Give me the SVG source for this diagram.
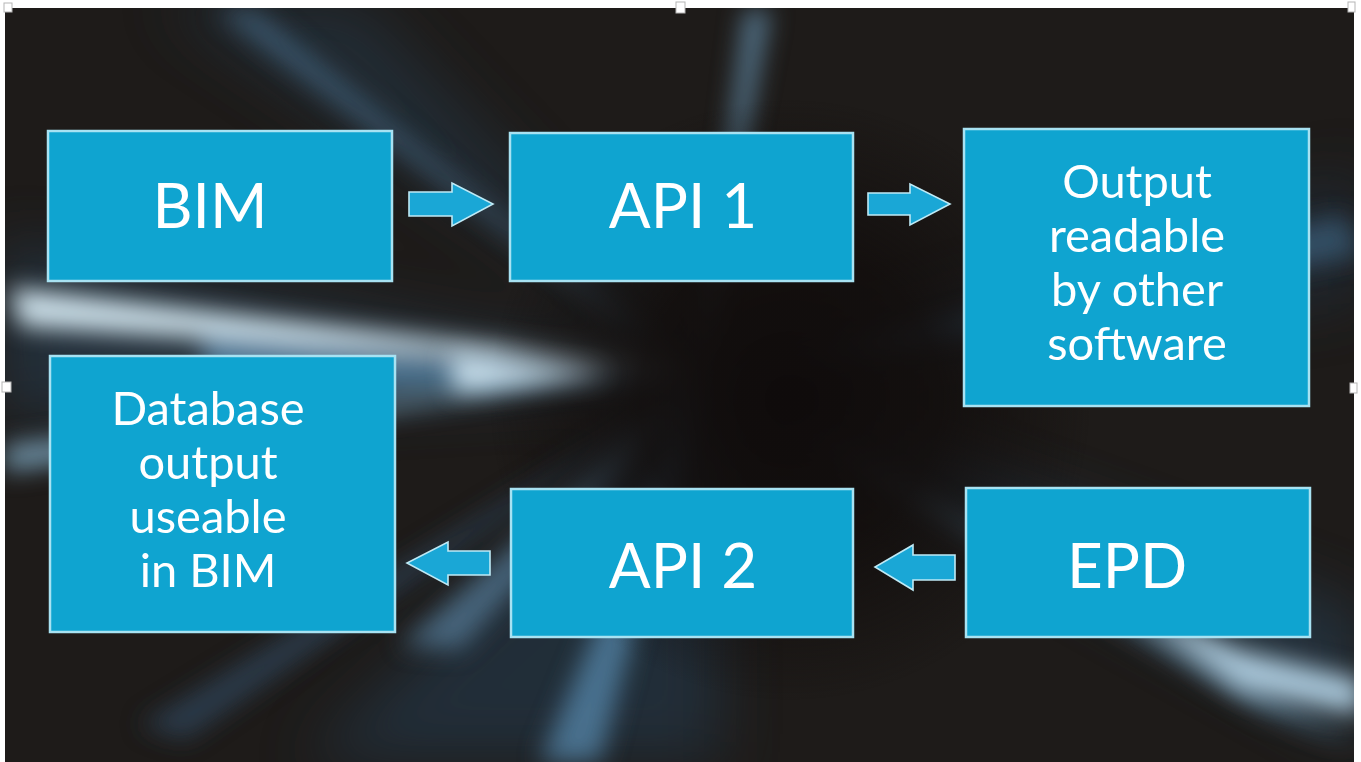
<svg xmlns="http://www.w3.org/2000/svg" width="1361" height="762" viewBox="0 0 1361 762">
  <defs>
    <style>
      .box { fill: #0fa4d0; stroke: #a8e2f2; stroke-width: 2.5; }
      .lbl { fill: #ffffff; font-family: "Lato", "Liberation Sans", sans-serif; text-anchor: middle; }
      .big { font-size: 62px; }
      .mid { font-size: 47px; }
      .arrow { fill: #1aa7d6; stroke: #bfeaf6; stroke-width: 1.6; stroke-linejoin: miter; }
      .handle { fill: #ffffff; stroke: #b5b5b5; stroke-width: 1; }
    </style>
    <clipPath id="frame">
      <rect x="5" y="8" width="1349" height="754"/>
    </clipPath>
    <filter id="soft" x="-20%" y="-20%" width="140%" height="140%">
      <feGaussianBlur stdDeviation="12"/>
    </filter>
    <filter id="softer" x="-20%" y="-20%" width="140%" height="140%">
      <feGaussianBlur stdDeviation="30"/>
    </filter>
    <radialGradient id="core" gradientUnits="userSpaceOnUse" cx="790" cy="400" r="300">
      <stop offset="0" stop-color="#0f0b0b" stop-opacity="1"/>
      <stop offset="0.5" stop-color="#120e0d" stop-opacity="0.85"/>
      <stop offset="1" stop-color="#120e0d" stop-opacity="0"/>
    </radialGradient>
  </defs>

  <!-- page -->
  <rect x="0" y="0" width="1361" height="762" fill="#ffffff"/>

  <!-- dark photo backdrop with radial light streaks -->
  <g id="backdrop" clip-path="url(#frame)">
    <rect x="5" y="8" width="1349" height="754" fill="#1e1b19"/>
    <g filter="url(#softer)" opacity="0.45">
      <polygon points="720,380 0,240 0,420" fill="#2c4a63"/>
      <polygon points="720,380 160,0 360,0" fill="#263f55"/>
      <polygon points="720,380 300,762 720,762" fill="#27455e"/>
      <polygon points="720,380 1361,610 1361,740" fill="#2b4b66"/>
      <polygon points="720,380 1361,170 1361,300" fill="#23394d"/>
    </g>
    <g filter="url(#soft)">
      <polygon points="700,370 10,288 20,326" fill="#d8ecf6" opacity="0.95"/>
      <polygon points="640,372 5,445 5,472" fill="#8bbad6" opacity="0.75"/>
      <polygon points="700,380 200,335 210,395" fill="#5e93b8" opacity="0.7"/>
      <polygon points="700,380 400,645 460,650" fill="#5f8fb3" opacity="0.6"/>
      <polygon points="700,380 540,762 600,762" fill="#5a8db3" opacity="0.7"/>
      <polygon points="700,380 215,10 255,10" fill="#4b7595" opacity="0.6"/>
      <polygon points="700,380 745,10 770,10" fill="#6c9cbe" opacity="0.7"/>
      <polygon points="720,380 1260,710 1361,745" fill="#6d9dbd" opacity="0.6"/>
      <polygon points="720,380 1345,215 1361,255" fill="#41698a" opacity="0.6"/>
      <polygon points="700,380 140,725 185,740" fill="#36597a" opacity="0.5"/>
    </g>
    <rect x="5" y="8" width="1349" height="754" fill="url(#core)"/>
    <!-- bright streaks drawn over the dark core -->
    <g filter="url(#soft)">
      <polygon points="610,374 450,354 455,392" fill="#d7ecf7" opacity="0.9"/>
      <polygon points="1120,600 1240,650 1361,680 1361,715 1240,690" fill="#b8d8ec" opacity="0.9"/>
    </g>
  </g>

  <!-- connectors -->
  <g id="connectors">
    <polygon class="arrow" points="409,192 452,192 452,183 493,204 452,226 452,216 409,216"/>
    <polygon class="arrow" points="868,193 910,193 910,184 950,204 910,225 910,215 868,215"/>
    <polygon class="arrow" points="955,555 913,555 913,545 875,567 913,590 913,580 955,580"/>
    <polygon class="arrow" points="490,551 448,551 448,542 407,563 448,585 448,575 490,575"/>
  </g>

  <!-- nodes -->
  <g id="node-bim">
    <rect class="box" x="48" y="131" width="344" height="150"/>
    <text class="lbl big" x="210" y="228">BIM</text>
  </g>
  <g id="node-api1">
    <rect class="box" x="510" y="133" width="343" height="148"/>
    <text class="lbl big" x="683" y="228">API 1</text>
  </g>
  <g id="node-output">
    <rect class="box" x="964" y="129" width="345" height="277"/>
    <text class="lbl mid" x="1137" y="198">Output</text>
    <text class="lbl mid" x="1137" y="252">readable</text>
    <text class="lbl mid" x="1137" y="306">by other</text>
    <text class="lbl mid" x="1137" y="360">software</text>
  </g>
  <g id="node-database">
    <rect class="box" x="50" y="356" width="345" height="276"/>
    <text class="lbl mid" x="208" y="425">Database</text>
    <text class="lbl mid" x="208" y="479">output</text>
    <text class="lbl mid" x="208" y="533">useable</text>
    <text class="lbl mid" x="208" y="587">in BIM</text>
  </g>
  <g id="node-api2">
    <rect class="box" x="511" y="489" width="342" height="148"/>
    <text class="lbl big" x="683" y="588">API 2</text>
  </g>
  <g id="node-epd">
    <rect class="box" x="966" y="488" width="344" height="149"/>
    <text class="lbl big" x="1127" y="588">EPD</text>
  </g>

  <!-- selection handles of the picture frame -->
  <g id="handles">
    <rect class="handle" x="4" y="3" width="8" height="9"/>
    <rect class="handle" x="676" y="2" width="9" height="11"/>
    <rect class="handle" x="1348" y="2" width="7" height="10"/>
    <rect class="handle" x="2" y="382" width="9" height="10"/>
    <rect class="handle" x="1350" y="383" width="7" height="10"/>
  </g>
</svg>
